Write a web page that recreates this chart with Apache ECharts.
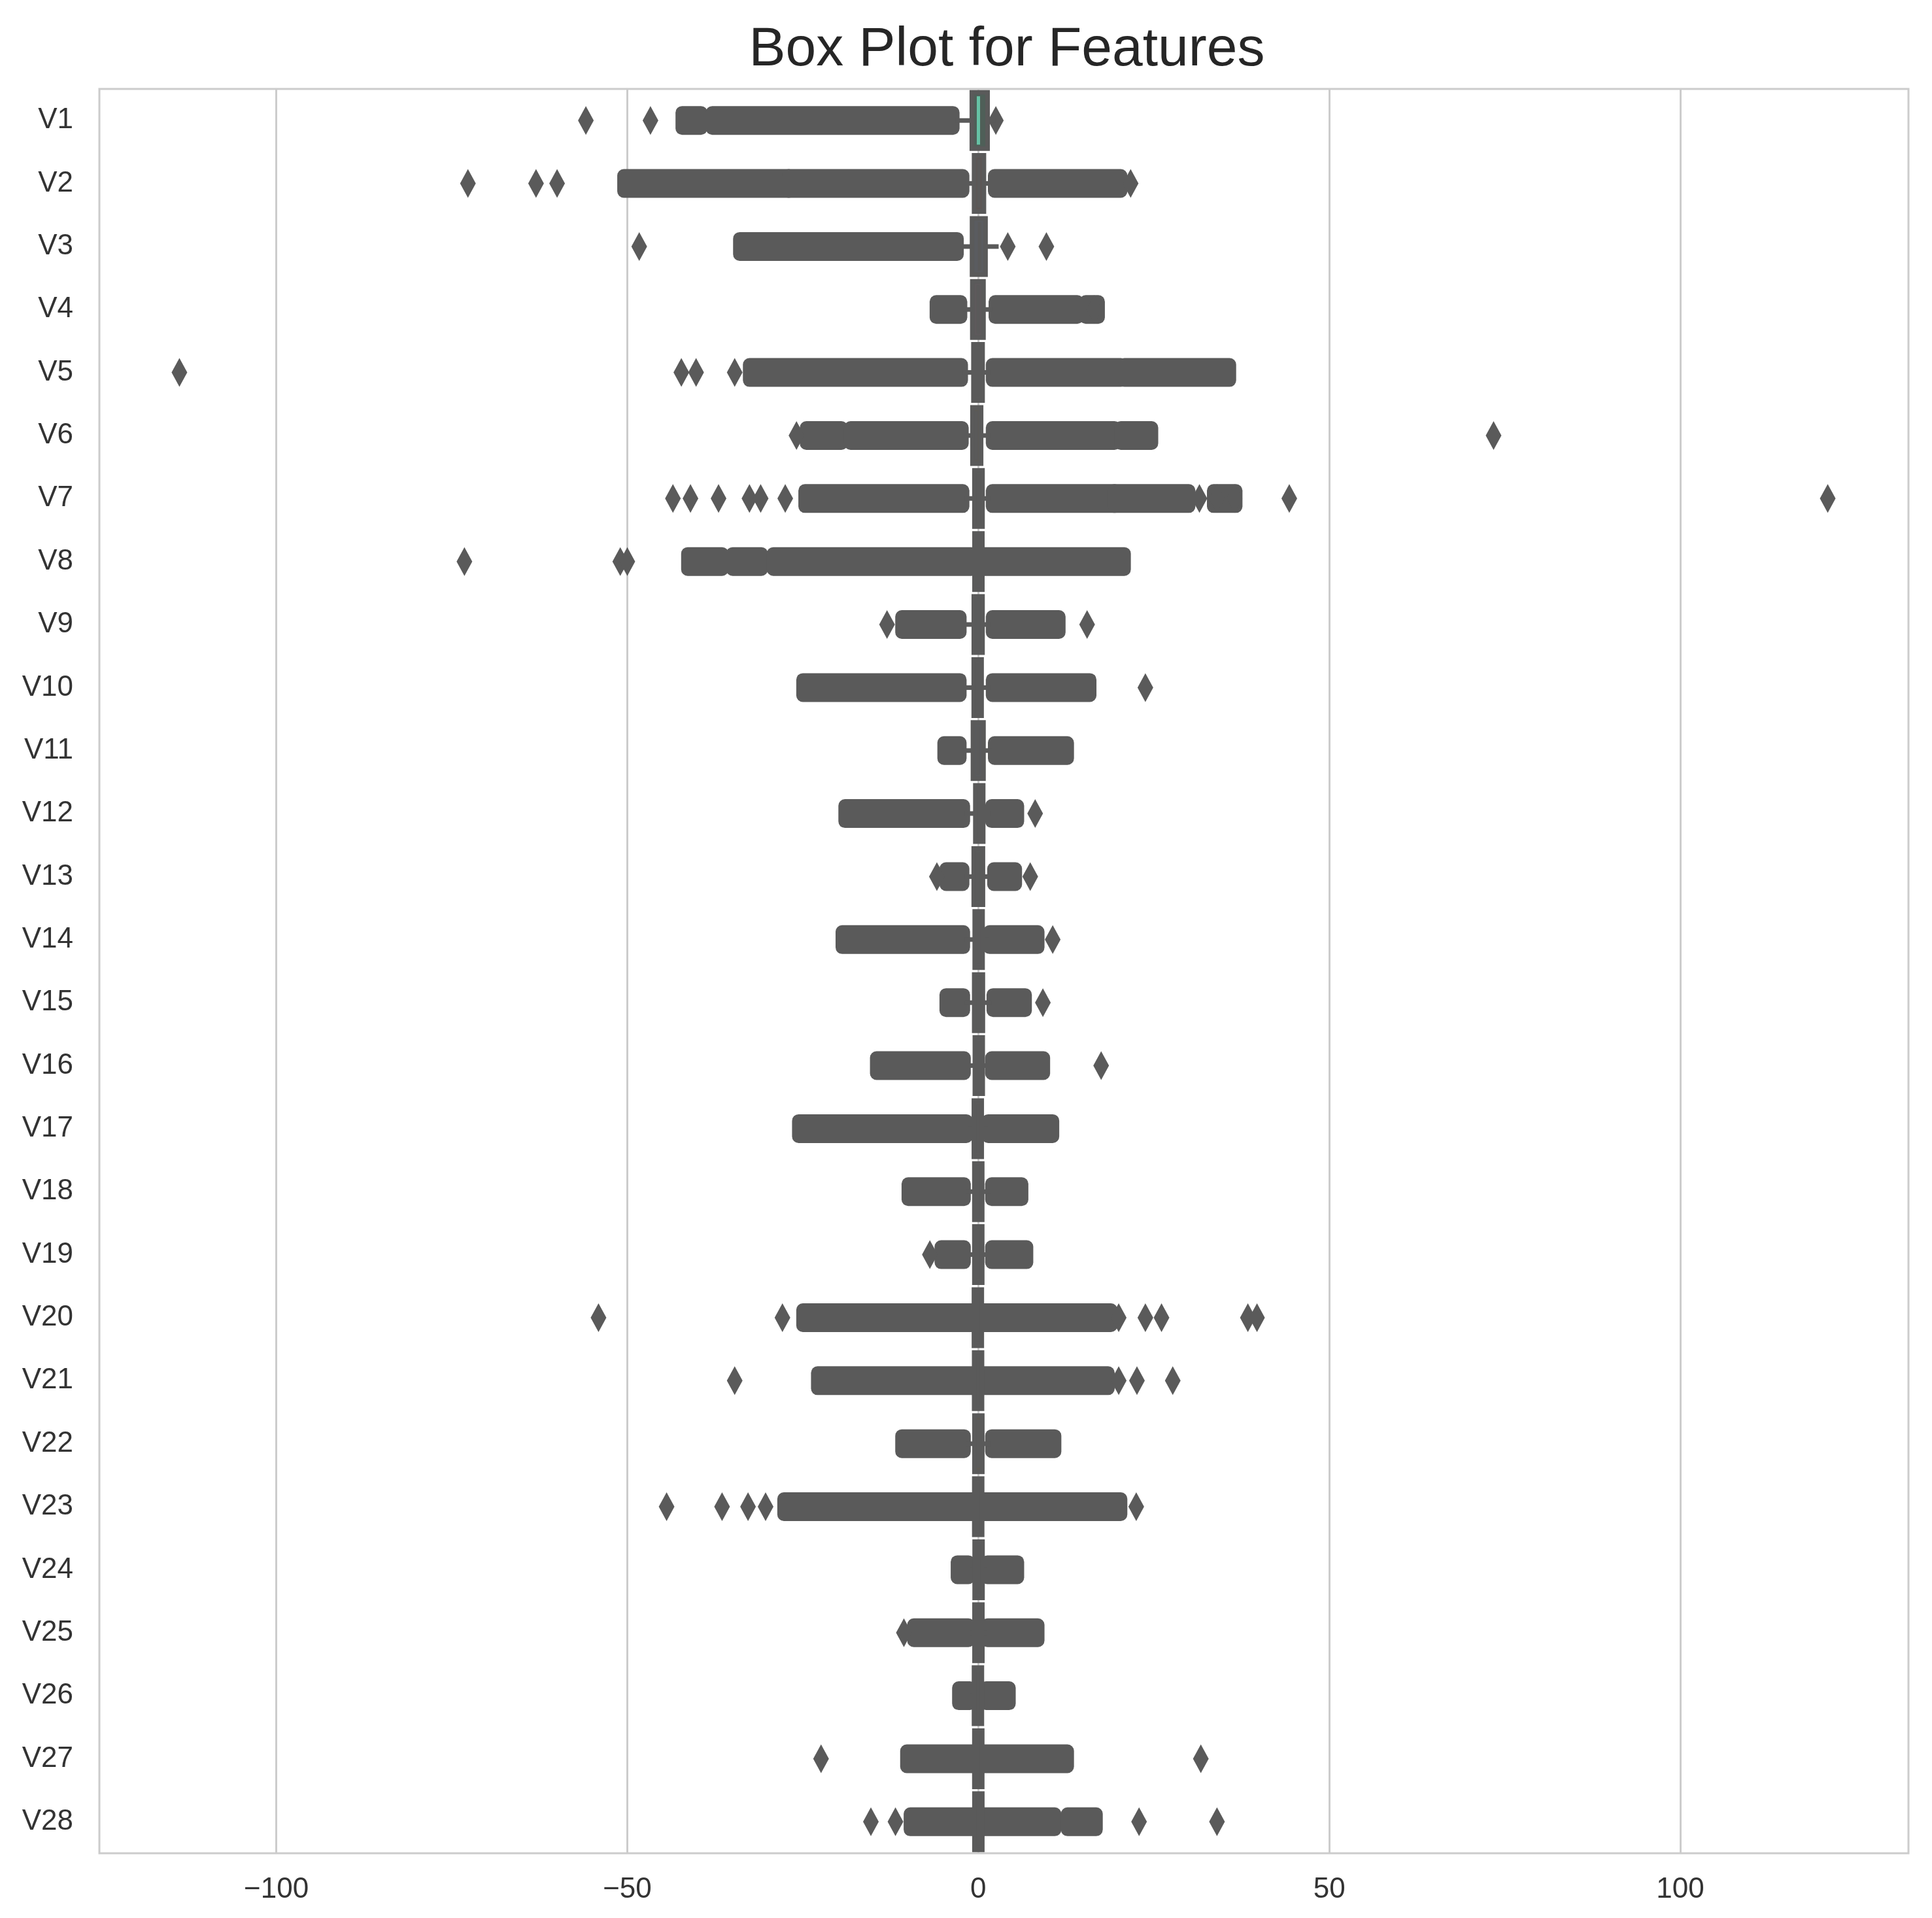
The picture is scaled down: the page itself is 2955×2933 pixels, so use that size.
<!DOCTYPE html>
<html>
<head>
<meta charset="utf-8">
<script src="https://cdn.jsdelivr.net/npm/echarts@6/dist/echarts.min.js"></script>
<style>html,body{margin:0;padding:0;background:#fff}#main{width:2955px;height:2933px}</style>
</head>
<body>
<div id="main"></div>
<script>
// feature names
var features = ['V1','V2','V3','V4','V5','V6','V7','V8','V9','V10','V11','V12','V13','V14',
  'V15','V16','V17','V18','V19','V20','V21','V22','V23','V24','V25','V26','V27','V28'];
// box stats (whisker low, q1, median, q3, whisker high)
var whiskerLo = [-3.2,-1.8,-2.6,-2.1,-2.2,-2.0,-1.9,-0.8,-2.3,-2.3,-2.3,-1.9,-1.9,-1.9,-1.9,-1.8,-1.5,-1.8,-1.8,-0.8,-0.6,-1.8,-0.6,-1.2,-1.2,-1.1,-0.4,-0.3];
var q1 = [-0.92,-0.6,-0.89,-0.85,-0.69,-0.77,-0.55,-0.21,-0.64,-0.54,-0.76,-0.41,-0.65,-0.43,-0.58,-0.47,-0.48,-0.5,-0.46,-0.21,-0.23,-0.54,-0.16,-0.35,-0.32,-0.33,-0.07,-0.05];
var med = [0.02,0.07,0.18,-0.02,-0.05,-0.27,0.04,0.02,-0.05,-0.09,-0.03,0.14,-0.01,0.05,0.05,0.07,-0.07,0.0,0.0,-0.06,-0.03,0.01,-0.01,0.04,0.02,-0.05,0.0,0.01];
var q3 = [1.32,0.8,1.03,0.74,0.61,0.4,0.57,0.33,0.6,0.45,0.74,0.62,0.66,0.49,0.65,0.52,0.4,0.5,0.46,0.13,0.19,0.53,0.15,0.44,0.35,0.24,0.09,0.08];
var whiskerHi = [2.4,2.0,2.9,2.1,1.8,1.8,1.8,0.6,1.8,1.8,2.0,1.8,2.0,1.5,1.9,1.7,1.3,1.7,1.7,0.7,0.6,1.8,0.5,1.2,1.2,1.0,0.3,0.2];
// box fill colours
var boxColors = ['#4f5f58','#5d5654','#5a5c60','#5e5a5c','#5b5b5b','#5c5a56','#5a5c5a','#5b5a5d','#5a5b5b','#5b5b5b',
  '#5a5b5d','#5c5a5a','#5a5c5b','#5b5a5c','#5a5b5a','#5b5b5c','#5c5b5a','#5a5b5c','#5b5c5a','#5b5a5b',
  '#5a5b5b','#5e5a52','#5b5b5b','#5a5b5c','#5b5a5b','#5a5b5a','#5b5b5a','#5a5a5b'];
// x tick values
var xTicks = [-100, -50, 0, 50, 100];
// dense outlier runs: [featureIndex, from, to]
var outlierBands = [
  [0,-42.2,-39.5],[0,-37.9,-3.6],
  [1,-50.5,-27],[1,-27,-2.2],[1,2.3,20.3],
  [2,-34,-3.0],
  [3,-6.0,-2.5],[3,2.4,14.1],[3,15.3,17.1],
  [4,-32.6,-2.4],[4,2.0,20.3],[4,20.8,35.8],
  [5,-24.5,-19.5],[5,-18.2,-2.3],[5,2.0,19.4],[5,20.3,24.7],
  [6,-24.7,-2.2],[6,2.0,19.4],[6,19.4,30],[6,33.5,36.7],
  [7,-41.4,-36.5],[7,-35,-30.9],[7,-29.2,-1.0],[7,0.8,20.8],
  [8,-10.9,-2.6],[8,2.0,11.5],
  [9,-25,-2.6],[9,2.0,15.9],
  [10,-4.9,-2.6],[10,2.3,12.7],
  [11,-19,-2.1],[11,1.9,5.6],
  [12,-4.6,-2.2],[12,2.2,5.3],
  [13,-19.4,-2.1],[13,1.6,8.5],
  [14,-4.6,-2.1],[14,2.1,6.7],
  [15,-14.5,-2.0],[15,1.9,9.3],
  [16,-25.6,-1.7],[16,1.4,10.6],
  [17,-10,-2.0],[17,1.9,6.2],
  [18,-5.3,-2.0],[18,1.9,6.9],
  [19,-25,-1.0],[19,0.8,18.9],
  [20,-22.9,-0.8],[20,0.7,18.5],
  [21,-10.9,-2.0],[21,1.9,10.9],
  [22,-27.7,-0.8],[22,0.6,20.3],
  [23,-3.0,-1.4],[23,1.3,5.6],
  [24,-9.2,-1.4],[24,1.3,8.5],
  [25,-2.8,-1.2],[25,1.1,4.4],
  [26,-10.2,-0.5],[26,0.4,12.7],
  [27,-9.7,-0.4],[27,0.3,10.9],[27,12.7,16.8]
];
// isolated outliers: [value, featureIndex]
var outlierPoints = [
  [-55.9,0],[-46.7,0],[2.5,0],
  [-72.7,1],[-63,1],[-60,1],[21.7,1],
  [-48.3,2],[4.2,2],[9.7,2],
  [16.5,3],
  [-113.8,4],[-42.3,4],[-40.2,4],[-34.7,4],
  [-25.9,5],[73.4,5],
  [-43.5,6],[-41,6],[-37,6],[-32.6,6],[-31,6],[-27.5,6],[31.5,6],[34,6],[36.5,6],[44.3,6],[121,6],
  [-73.2,7],[-51,7],[-50,7],
  [-13,8],[15.5,8],
  [23.8,9],
  [8.1,11],
  [-5.9,12],[7.4,12],
  [10.6,13],
  [9.2,14],
  [17.5,15],
  [-6.9,18],
  [-54.1,19],[-27.9,19],[20,19],[23.8,19],[26.1,19],[38.4,19],[39.7,19],
  [-34.7,20],[20,20],[22.6,20],[27.7,20],
  [-44.4,22],[-36.5,22],[-32.8,22],[-30.3,22],[22.5,22],
  [-10.6,24],
  [-22.4,26],[31.7,26],
  [-15.3,27],[-11.8,27],[22.9,27],[34,27]
];

var boxData = features.map(function (f, i) {
  return [i, whiskerLo[i], q1[i], med[i], q3[i], whiskerHi[i]];
});

var chart = echarts.init(document.getElementById('main'));
chart.setOption({
  animation: false,
  title: {
    text: 'Box Plot for Features', left: 1535, textAlign: 'center', top: 30,
    textStyle: { fontFamily: 'Liberation Sans', fontSize: 84, fontWeight: 'normal', color: '#262626' }
  },
  grid: { left: 152, right: 36, top: 136, bottom: 99, show: true, borderColor: '#cccccc', borderWidth: 3 },
  xAxis: {
    type: 'value', min: -125.2, max: 132.5,
    axisLine: { show: false },
    axisTick: { show: false, customValues: xTicks },
    splitLine: { lineStyle: { color: '#cccccc', width: 3 } },
    axisLabel: {
      customValues: xTicks,
      fontFamily: 'Liberation Sans', fontSize: 44, color: '#333333', margin: 34,
      formatter: function (v) { return String(v).replace('-', '\u2212'); }
    }
  },
  yAxis: {
    type: 'category', data: features, inverse: true,
    axisLine: { show: false }, axisTick: { show: false }, splitLine: { show: false },
    axisLabel: { fontFamily: 'Liberation Sans', fontSize: 44, color: '#333333', margin: 40 }
  },
  series: [
    {
      type: 'custom', z: 2,
      data: outlierBands.map(function (b) { return [b[1], b[2], b[0]]; }),
      encode: { x: [0, 1], y: 2 },
      renderItem: function (params, api) {
        var a = api.coord([api.value(0), api.value(2)]);
        var b = api.coord([api.value(1), api.value(2)]);
        var h = 44;
        return {
          type: 'rect',
          shape: { x: a[0] - 10, y: a[1] - h / 2, width: b[0] - a[0] + 20, height: h, r: 10 },
          style: { fill: '#5a5a5a' }
        };
      }
    },
    {
      type: 'scatter', z: 2, symbol: 'diamond', symbolSize: [24, 44],
      itemStyle: { color: '#5a5a5a', opacity: 1 },
      data: outlierPoints
    },
    {
      type: 'custom', z: 3,
      data: boxData,
      encode: { x: [1, 5], y: 0 },
      renderItem: function (params, api) {
        var i = api.value(0);
        var lo = api.coord([api.value(1), i]);
        var p1 = api.coord([api.value(2), i]);
        var pm = api.coord([api.value(3), i]);
        var p3 = api.coord([api.value(4), i]);
        var hi = api.coord([api.value(5), i]);
        var h = 86;
        var x0 = Math.min(p1[0], pm[0] - 6), x1 = Math.max(p3[0], pm[0] + 6);
        return {
          type: 'group',
          children: [
            { type: 'line', shape: { x1: lo[0], y1: lo[1], x2: hi[0], y2: hi[1] },
              style: { stroke: '#5a5a5a', lineWidth: 7 } },
            { type: 'rect', shape: { x: x0, y: lo[1] - h / 2, width: x1 - x0, height: h },
              style: { fill: boxColors[i], stroke: '#5a5a5a', lineWidth: 7 } },
            { type: 'line', shape: { x1: pm[0], y1: lo[1] - h / 2 + 6, x2: pm[0], y2: lo[1] + h / 2 - 6 },
              style: { stroke: i === 0 ? '#66c2a5' : '#5a5a5a', lineWidth: 5 } }
          ]
        };
      }
    }
  ]
});
</script>
</body>
</html>
